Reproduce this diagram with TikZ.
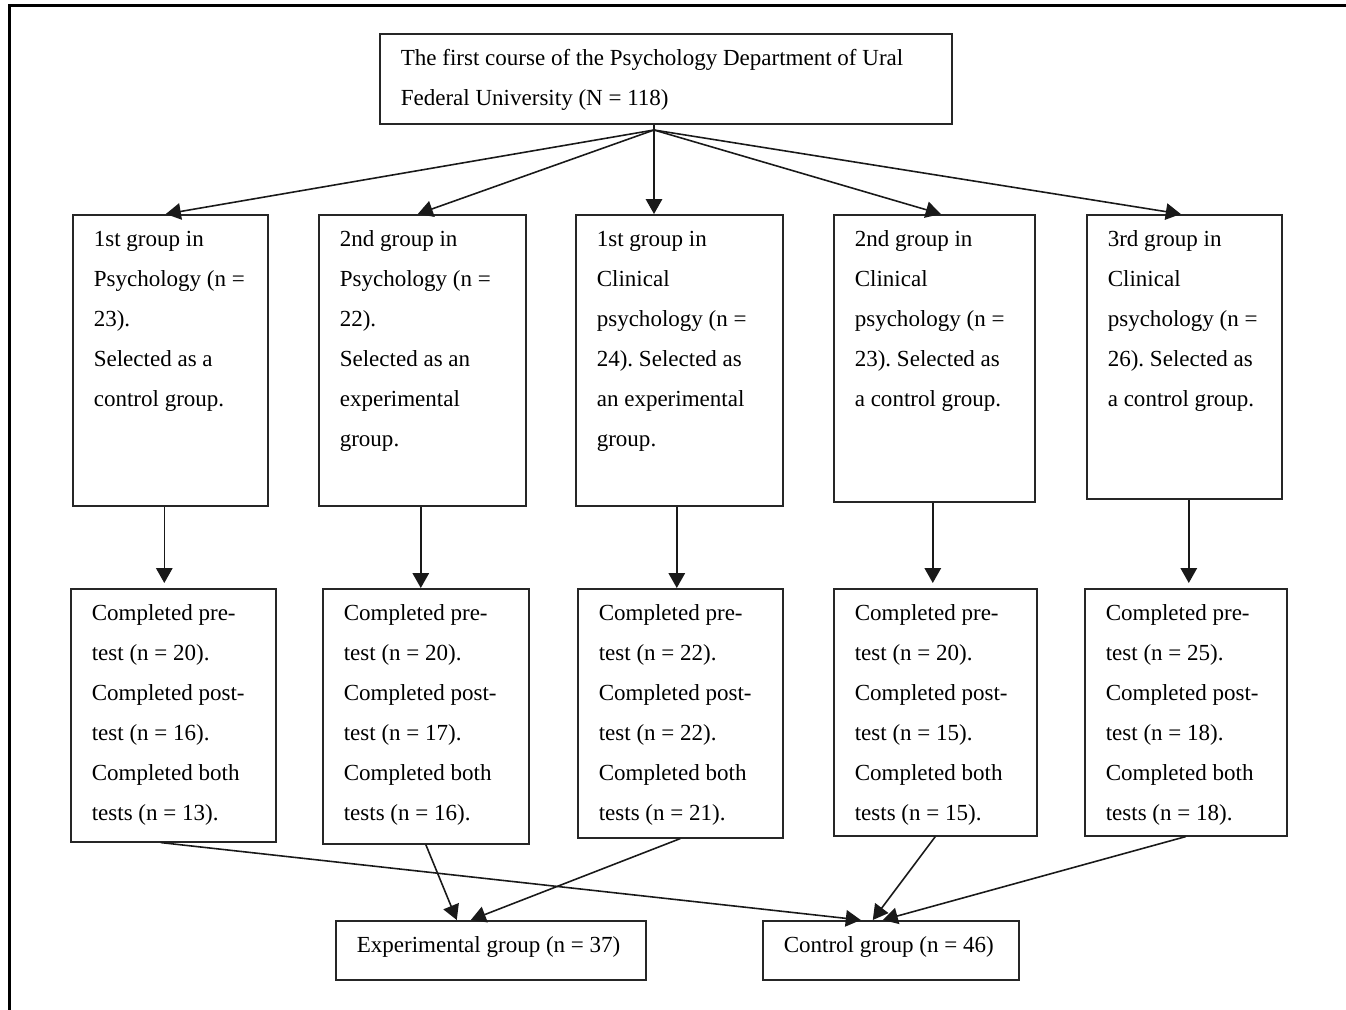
\documentclass[tikz,border=0pt]{standalone}
\usepackage{fontspec}
\setmainfont{Liberation Serif}
\usepackage{tikz}
\usetikzlibrary{arrows.meta,calc}
\frenchspacing
\newcommand{\bodyfont}{\fontsize{13.1pt}{22.76pt}\selectfont}
% text of a box: width, height, lines
\newcommand{\grptext}[3]{\parbox[c][#2][t]{#1}{\rule{0pt}{0.63cm}#3}}
\tikzset{
  grp/.style={draw=black!85,line width=0.9pt,anchor=north west,inner xsep=0.42cm,inner ysep=0pt,font=\bodyfont},
  flow/.style={-{Triangle[length=3mm,width=3.3mm]},black!90,line width=0.9pt},
  link/.style={black!90,line width=0.9pt},
}
\begin{document}
\begin{tikzpicture}
  \useasboundingbox (0,0) rectangle (26.92,-20.2);
  \draw[line width=1.7pt] (0.19,-20.2) -- (0.19,-0.11) -- (26.92,-0.11);

  \node[grp] (top) at (7.58,-0.66) {\grptext{10.60cm}{1.80cm}{The first course of the Psychology Department of Ural\\Federal University (N = 118)}};

  % groups
  \node[grp] (b1) at (1.44,-4.28)  {\grptext{3.06cm}{5.82cm}{1st group in\\Psychology (n =\\23).\\Selected as a\\control group.}};
  \node[grp] (b2) at (6.36,-4.28)  {\grptext{3.30cm}{5.82cm}{2nd group in\\Psychology (n =\\22).\\Selected as an\\experimental\\group.}};
  \node[grp] (b3) at (11.50,-4.28) {\grptext{3.30cm}{5.82cm}{1st group in\\Clinical\\psychology (n =\\24). Selected as\\an experimental\\group.}};
  \node[grp] (b4) at (16.66,-4.28) {\grptext{3.18cm}{5.74cm}{2nd group in\\Clinical\\psychology (n =\\23). Selected as\\a control group.}};
  \node[grp] (b5) at (21.72,-4.28) {\grptext{3.06cm}{5.68cm}{3rd group in\\Clinical\\psychology (n =\\26). Selected as\\a control group.}};

  % tests
  \node[grp] (c1) at (1.40,-11.76)  {\grptext{3.26cm}{5.06cm}{Completed pre-\\test (n = 20).\\Completed post-\\test (n = 16).\\Completed both\\tests (n = 13).}};
  \node[grp] (c2) at (6.44,-11.76)  {\grptext{3.28cm}{5.10cm}{Completed pre-\\test (n = 20).\\Completed post-\\test (n = 17).\\Completed both\\tests (n = 16).}};
  \node[grp] (c3) at (11.54,-11.76) {\grptext{3.26cm}{4.98cm}{Completed pre-\\test (n = 22).\\Completed post-\\test (n = 22).\\Completed both\\tests (n = 21).}};
  \node[grp] (c4) at (16.66,-11.76) {\grptext{3.22cm}{4.94cm}{Completed pre-\\test (n = 20).\\Completed post-\\test (n = 15).\\Completed both\\tests (n = 15).}};
  \node[grp] (c5) at (21.68,-11.76) {\grptext{3.20cm}{4.94cm}{Completed pre-\\test (n = 25).\\Completed post-\\test (n = 18).\\Completed both\\tests (n = 18).}};

  \node[grp] (exp)  at (6.70,-18.40)  {\grptext{5.36cm}{1.18cm}{Experimental group (n = 37)}};
  \node[grp] (ctrl) at (15.24,-18.40) {\grptext{4.28cm}{1.18cm}{Control group (n = 46)}};

  \coordinate (split) at (13.08,-2.60);
  \draw[link] (top.south -| split) -- (split);
  \draw[flow] (split) -- ([xshift=-0.09cm]b1.north);
  \draw[flow] (split) -- ([xshift=-0.09cm]b2.north);
  \draw[flow] (split) -- (split |- b3.north);
  \draw[flow] (split) -- ([xshift=0.13cm]b4.north);
  \draw[flow] (split) -- ([xshift=-0.07cm]b5.north);

  \draw[flow] ([xshift=-0.12cm]b1.south) -- ([xshift=-0.12cm,yshift=0.1cm]b1.south |- c1.north);
  \draw[flow] ([xshift=-0.03cm]b2.south) -- ([xshift=-0.03cm]b2.south |- c2.north);
  \draw[flow] ([xshift=-0.05cm]b3.south) -- ([xshift=-0.05cm]b3.south |- c3.north);
  \draw[flow] ([xshift=-0.03cm]b4.south) -- ([xshift=-0.03cm,yshift=0.1cm]b4.south |- c4.north);
  \draw[flow] ([xshift=0.09cm]b5.south)  -- ([xshift=0.09cm,yshift=0.1cm]b5.south |- c5.north);

  \draw[flow] ([xshift=-0.25cm]c1.south) -- ([xshift=-0.6cm]ctrl.north);
  \draw[flow] (c2.south) -- ([xshift=-0.68cm]exp.north);
  \draw[flow] (c3.south) -- ([xshift=-0.4cm]exp.north);
  \draw[flow] (c4.south) -- ([xshift=-0.36cm]ctrl.north);
  \draw[flow] (c5.south) -- ([xshift=-0.16cm]ctrl.north);
\end{tikzpicture}
\end{document}
